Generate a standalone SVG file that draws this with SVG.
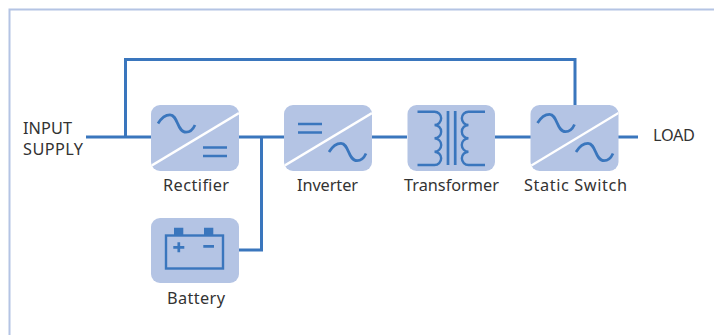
<svg xmlns="http://www.w3.org/2000/svg" width="714" height="335" viewBox="0 0 714 335">
<style>
text{font-family:"Noto Sans","DejaVu Sans",sans-serif;font-size:16.3px;fill:#333}
.c{text-anchor:middle}
.box{fill:#b4c4e4}
.conn{fill:none;stroke:#3a76bd;stroke-width:3}
.g{fill:none;stroke:#3a76bd;stroke-width:2.7}
.g2{fill:none;stroke:#3a76bd;stroke-width:2.4}
.d{stroke:#fff;stroke-width:2.4;fill:none}
</style>
<defs>
<path id="sine" d="M0 0C3-5 7-8.700 12-8.700C20-8.700 19 8.700 28 8.700C32 8.700 35 6 37 1.500" class="g"/>
<path id="eq" d="M0 0H24M0 8.500H24" class="g"/>
<clipPath id="bc"><rect width="88" height="66" rx="9"/></clipPath>
</defs>
<path d="M714 9.500H9.500V335" fill="none" stroke="#b4c4e4" stroke-width="2"/>
<g id="connectors">
<path class="conn" d="M86 137H151M239 137H284M372 137H407M495 137H531M618 137H638"/>
<path class="conn" d="M125.500 137V59.500H575V105"/>
<path class="conn" d="M261.500 137V250H239"/>
</g>
<g id="input"><text x="23" y="134" textLength="49">INPUT</text><text x="23" y="155" textLength="60">SUPPLY</text></g>
<g id="load"><text x="653" y="141" textLength="42">LOAD</text></g>
<g id="rectifier" transform="translate(151 105)">
<rect class="box" width="88" height="66" rx="9"/>
<path class="d" d="M0 61L88 8" clip-path="url(#bc)"/>
<use href="#sine" x="7" y="18.500"/><use href="#eq" x="52" y="42.500"/>
<text x="12" y="86" textLength="66">Rectifier</text>
</g>
<g id="inverter" transform="translate(284 105)">
<rect class="box" width="88" height="66" rx="9"/>
<path class="d" d="M0 61L88 8" clip-path="url(#bc)"/>
<use href="#eq" x="14" y="19"/><use href="#sine" x="45" y="47"/>
<text x="13" y="86" textLength="61">Inverter</text>
</g>
<g id="transformer" transform="translate(407.500 105)">
<rect class="box" width="87.500" height="66" rx="9"/>
<path class="g2" d="M10 6.700H27A6.600 6.600 0 0 1 27 20A6.600 6.600 0 0 1 27 33.300A6.600 6.600 0 0 1 27 46.700A6.600 6.600 0 0 1 27 60H10"/>
<path class="g2" d="M77.500 6.700H61A6.600 6.600 0 0 0 61 20A6.600 6.600 0 0 0 61 33.300A6.600 6.600 0 0 0 61 46.700A6.600 6.600 0 0 0 61 60H77.500"/>
<path class="g" d="M40.500 6V60M47.700 6V60"/>
<text x="-3.500" y="86" textLength="95">Transformer</text>
</g>
<g id="static-switch" transform="translate(530.500 105)">
<rect class="box" width="88" height="66" rx="9"/>
<path class="d" d="M0 61L88 8" clip-path="url(#bc)"/>
<use href="#sine" x="7" y="18"/><use href="#sine" x="45.500" y="47"/>
<text x="-6.500" y="86" textLength="103">Static Switch</text>
</g>
<g id="battery" transform="translate(151 218)">
<rect class="box" width="88" height="65" rx="9"/>
<path fill="#3a76bd" d="M23 9.700H32.300V18H23ZM53 9.700H62.300V18H53Z"/>
<rect x="15" y="17.500" width="57" height="33" class="g2"/>
<path class="g" d="M22.300 29.300H33.300M27.800 24.300V34.300M52.300 28.300H63"/>
<text x="16" y="86" textLength="58">Battery</text>
</g>
</svg>
